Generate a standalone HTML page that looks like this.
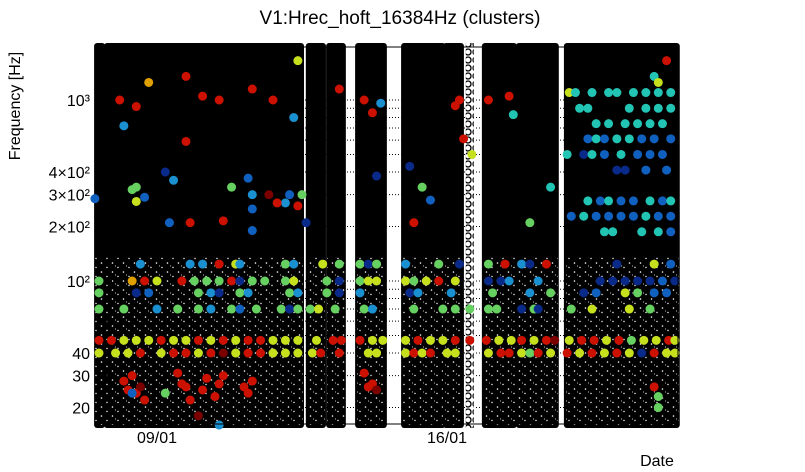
<!DOCTYPE html>
<html><head><meta charset="utf-8">
<style>
html,body{margin:0;padding:0;background:#fff;}
svg{display:block;font-family:"Liberation Sans",sans-serif;}
</style></head>
<body>
<svg id="chart" width="805" height="472" viewBox="0 0 805 472" xmlns="http://www.w3.org/2000/svg">
<defs>
<pattern id="speck" width="11" height="9" patternUnits="userSpaceOnUse">
<rect width="11" height="9" fill="#000"/>
<circle cx="2.5" cy="2" r="0.8" fill="#fff"/>
<circle cx="8" cy="6.5" r="0.7" fill="#fff"/>
<circle cx="5.5" cy="5" r="0.5" fill="#fff"/>
</pattern>
<pattern id="hollow" width="8" height="8" patternUnits="userSpaceOnUse">
<rect width="8" height="8" fill="#fff"/>
<circle cx="4" cy="4" r="3" fill="none" stroke="#000" stroke-width="1.3"/>
</pattern>
</defs>
<text x="400" y="24" font-size="19" text-anchor="middle">V1:Hrec_hoft_16384Hz (clusters)</text>
<text transform="translate(20,106) rotate(-90)" font-size="16" text-anchor="middle">Frequency [Hz]</text>
<text x="657" y="466" font-size="16" text-anchor="middle">Date</text>
<g id="grid"></g>
<g id="cols"></g>
<g id="dots"></g>
<g id="axes"></g>
</svg>
<script>
// time in days relative to 09/01
const columnStarts = [-1.47, -1.23, 3.64, 4.13, 4.83, 5.94, 6.95, 7.89, 8.71, 9.87];
const columnEnds   = [-1.30, 3.50, 4.03, 4.51, 5.50, 6.92, 7.36, 8.64, 9.65, 12.57];
const sparseColumnDays = [7.55];
const xTickDays = [0, 7];
const xTickLabels = ["09/01", "16/01"];
const yTickVals = [20, 30, 40, 100, 200, 300, 400, 1000];
const yTickLabels = ["20", "30", "40", "10²", "2×10²", "3×10²", "4×10²", "10³"];
const palette = ["#7a0000","#cc1100","#e0a000","#c6e01e","#66d060","#22c4b4","#1a90d0","#1060c0","#0a2a8a"];
const tVals = [
 -1.4,-1.0,-0.7,-0.4,0.1,0.4,0.7,1.0,1.3,1.6,1.9,2.2,2.5,2.8,3.1,3.4,3.75,3.95,4.4,5.1,5.3,6.0,6.2,6.4,6.6,7.0,7.2,8.0,8.3,8.5,8.8,9.0,9.2,9.5,9.9,10.2,10.5,10.8,11.1,11.4,11.7,12.0,12.3,12.5,
 -1.4,-1.1,-0.8,-0.5,-0.2,0.1,0.4,0.7,1.0,1.3,1.6,1.9,2.2,2.5,2.8,3.1,3.4,3.85,4.25,4.45,4.9,5.2,5.45,6.0,6.3,6.6,6.9,7.2,7.55,7.95,8.25,8.55,8.8,9.1,9.4,9.6,9.95,10.25,10.55,10.85,11.15,11.45,11.75,12.05,12.35,12.5,
 -1.4,-0.8,0.0,0.5,1.0,1.3,1.8,2.0,2.4,3.0,3.2,3.4,3.7,3.9,4.3,5.0,5.2,6.2,6.9,7.2,7.55,8.0,8.2,8.8,9.1,9.2,10.0,10.5,11.4,11.9,
 -1.4,-0.5,-0.2,1.0,1.3,1.5,2.0,2.2,3.2,3.4,4.1,4.4,4.9,6.1,6.3,7.1,8.1,9.0,9.5,10.3,10.6,11.3,11.6,12.0,12.3,
 -1.4,-0.6,-0.3,0.0,0.6,0.9,1.2,1.5,1.8,2.0,2.3,2.6,3.1,3.3,4.1,4.4,4.9,5.1,5.3,6.0,6.2,6.5,6.8,7.2,8.0,8.3,8.5,9.2,10.7,11.0,11.3,11.6,11.9,12.2,12.5,
 -0.4,0.8,1.1,1.5,1.9,2.0,3.1,3.3,4.0,4.4,4.9,5.1,5.3,6.0,6.8,7.3,8.0,8.4,8.8,9.0,9.4,11.1,12.0,12.4,
 -0.9,-0.5,-0.2,0.7,0.7,1.1,1.5,2.3,2.8,3.3,3.4,0.2,1.8,2.2,2.3,2.3,2.3,3.1,0.3,0.8,1.6,2.7,2.9,0.4,-0.8,-0.6,-0.5,-0.3,-0.5,-1.5,3.2,3.4,3.5,3.6,4.4,5.0,5.2,5.4,6.1,6.4,6.6,6.2,7.3,7.4,7.2,7.6,8.0,8.5,9.0,9.5,8.6,5.3,
 -0.8,-0.7,-0.6,-0.5,-0.4,-0.3,0.5,0.6,0.7,1.0,1.1,1.2,1.4,1.5,1.6,2.1,2.2,2.3,-0.6,0.2,1.5,0.8,5.0,5.1,5.2,5.3,12.0,12.1,12.1,
 9.95,10.1,10.5,10.9,11.1,11.5,11.8,12.1,12.4,10.2,10.4,11.4,11.8,12.1,12.4,10.6,10.9,11.3,11.6,11.9,12.2,10.4,10.6,10.8,11.1,11.4,11.7,12.0,12.4,
 9.9,10.3,10.5,10.8,11.2,11.6,11.9,12.2,11.1,11.3,11.8,12.3,10.4,10.7,10.9,11.2,11.5,11.9,12.2,12.4,10.0,10.3,10.6,10.9,11.2,11.5,11.8,12.1,12.4,10.8,11.0,11.7,12.1,12.4,12.3,12.0,12.1
];
const fVals = [
 40,40,40,40,40,40,40,40,40,40,40,40,40,40,40,40,40,40,40,40,40,40,40,40,40,40,40,40,40,40,40,40,40,40,40,40,40,40,40,40,40,40,40,40,
 47,47,47,47,47,47,47,47,47,47,47,47,47,47,47,47,47,47,47,47,47,47,47,47,47,47,47,47,47,47,47,47,47,47,47,47,47,47,47,47,47,47,47,47,47,47,
 70,70,70,70,70,70,70,70,70,70,70,70,70,70,70,70,70,70,70,70,70,70,70,70,70,70,70,70,70,70,
 86,86,86,86,86,86,86,86,86,86,86,86,86,86,86,86,86,86,86,86,86,86,86,86,86,
 100,100,100,100,100,100,100,100,100,100,100,100,100,100,100,100,100,100,100,100,100,100,100,100,100,100,100,100,100,100,100,100,100,100,100,
 124,124,124,124,124,124,124,124,124,124,124,124,124,124,124,124,124,124,124,124,124,124,124,124,
 1000,920,1250,1350,590,1050,1000,1150,1000,800,1650,400,330,370,300,250,190,270,210,210,215,300,270,360,720,320,330,290,275,285,300,260,300,210,1150,1000,850,960,430,330,280,210,1000,610,930,500,1000,1050,210,330,830,380,
 28,25,30,24,26,22,31,27,26,18,25,29,23,27,30,26,24,28,24,24,16,22,31,26,27,25,26,23,20,
 1100,1100,1100,1100,1100,1100,1100,1100,1100,900,900,900,900,900,900,740,740,740,740,740,740,610,610,610,610,610,610,610,610,
 500,500,500,500,500,500,500,500,410,410,410,410,277,277,277,277,277,277,277,277,228,228,228,228,228,228,228,228,228,187,187,187,187,187,1650,1350,1250
];
const cVals = [
 3,3,3,1,3,1,1,3,1,0,3,1,1,3,3,3,3,1,1,3,3,3,1,3,1,3,3,3,1,1,3,4,1,3,1,3,1,3,1,3,8,1,3,3,
 1,1,3,3,3,1,3,3,1,3,1,3,1,1,3,3,3,3,1,1,1,3,3,3,1,3,3,1,1,1,3,3,1,3,1,0,3,1,1,3,1,4,3,3,1,3,
 4,4,6,4,4,6,4,7,4,4,8,4,4,3,4,4,6,4,4,4,4,4,4,8,4,8,4,3,3,4,
 4,8,7,4,6,8,4,6,4,6,4,8,6,8,6,6,4,6,4,8,7,3,4,7,7,
 4,2,1,3,1,4,4,4,1,8,4,4,4,3,4,8,4,3,3,3,4,3,1,3,8,8,6,6,8,8,8,8,8,7,8,
 6,6,6,1,3,6,4,6,3,4,4,8,4,6,4,8,4,1,6,8,1,8,3,7,
 1,1,2,1,1,1,1,1,1,6,3,8,4,7,6,7,7,6,7,1,1,0,1,6,6,4,4,7,3,7,7,1,4,8,1,1,1,6,8,4,7,1,1,1,1,3,1,1,4,5,5,8,
 1,1,1,1,0,1,1,1,1,0,1,1,1,1,1,1,1,1,7,4,6,1,1,1,1,0,1,4,4,
 3,5,5,5,5,5,5,5,5,5,5,5,5,5,5,5,5,5,5,5,5,7,5,7,5,5,7,7,7,
 5,8,5,7,5,7,7,7,8,8,7,7,5,7,5,7,7,5,7,5,7,5,7,7,7,7,5,7,7,5,5,5,5,7,1,5,3
];

const X0 = 157, PXD = 41.43;
const YDEC = 281, PXDEC = 181;
const L = 104, R = 678, T = 47, B = 424;
function xs(d){ return X0 + d * PXD; }
function ys(f){ return YDEC - (Math.log10(f) - 2) * PXDEC; }
const NS = "http://www.w3.org/2000/svg";
function mk(tag, attrs, parent){
  const e = document.createElementNS(NS, tag);
  for (const k in attrs) e.setAttribute(k, attrs[k]);
  parent.appendChild(e); return e;
}
const grid = document.getElementById('grid');
const cols = document.getElementById('cols');
const dots = document.getElementById('dots');
const axes = document.getElementById('axes');

const gridVals = [20,30,40,50,60,70,80,90,100,200,300,400,500,600,700,800,900,1000];
gridVals.forEach(v => {
  const y = ys(v);
  const g = mk('line', {x1:L, x2:R, y1:y, y2:y, stroke:'#000', 'stroke-width':1, 'stroke-dasharray':'1,2'}, grid);
  
  
});

const ySplit = ys(135);
for (let i = 0; i < columnStarts.length; i++){
  const x1 = xs(columnStarts[i]) - 2, x2 = xs(columnEnds[i]) + 2;
  const g = mk('g', {}, cols);
  
  
  mk('rect', {x:x1, y:T-4, width:x2-x1, height:B+8-T, rx:3, fill:'#000'}, g);
  mk('rect', {x:x1+1, y:ySplit, width:x2-x1-2, height:B+1-ySplit, fill:'url(#speck)'}, g);
}
sparseColumnDays.forEach(d => {
  const x = xs(d);
  const r = mk('rect', {x:x-4, y:T-4, width:8, height:B+8-T, fill:'url(#hollow)'}, cols);
  
  
});

for (let i = 0; i < tVals.length; i++){
  const c = mk('circle', {cx:xs(tVals[i]), cy:ys(fVals[i]), r:4.5, fill:palette[cVals[i]]}, dots);
  
  
}

const fr = mk('rect', {x:L, y:T, width:R-L, height:B-T, fill:'none', stroke:'#000', 'stroke-width':1}, axes);


gridVals.forEach(v => {
  const y = ys(v);
  const major = (v === 100 || v === 1000);
  mk('line', {x1:L, x2:L + (major ? 8 : 4), y1:y, y2:y, stroke:'#000'}, axes);
});
yTickVals.forEach((v, i) => {
  const t = mk('text', {x:90, y:ys(v) + 6, 'font-size':16, 'text-anchor':'end'}, axes);
  t.textContent = yTickLabels[i];
  
  
});
xTickDays.forEach((d, i) => {
  mk('line', {x1:xs(d), x2:xs(d), y1:B, y2:B-8, stroke:'#000'}, axes);
  const t = mk('text', {x:xs(d), y:443, 'font-size':16, 'text-anchor':'middle'}, axes);
  t.textContent = xTickLabels[i];
  
  
});
</script>
</body></html>
